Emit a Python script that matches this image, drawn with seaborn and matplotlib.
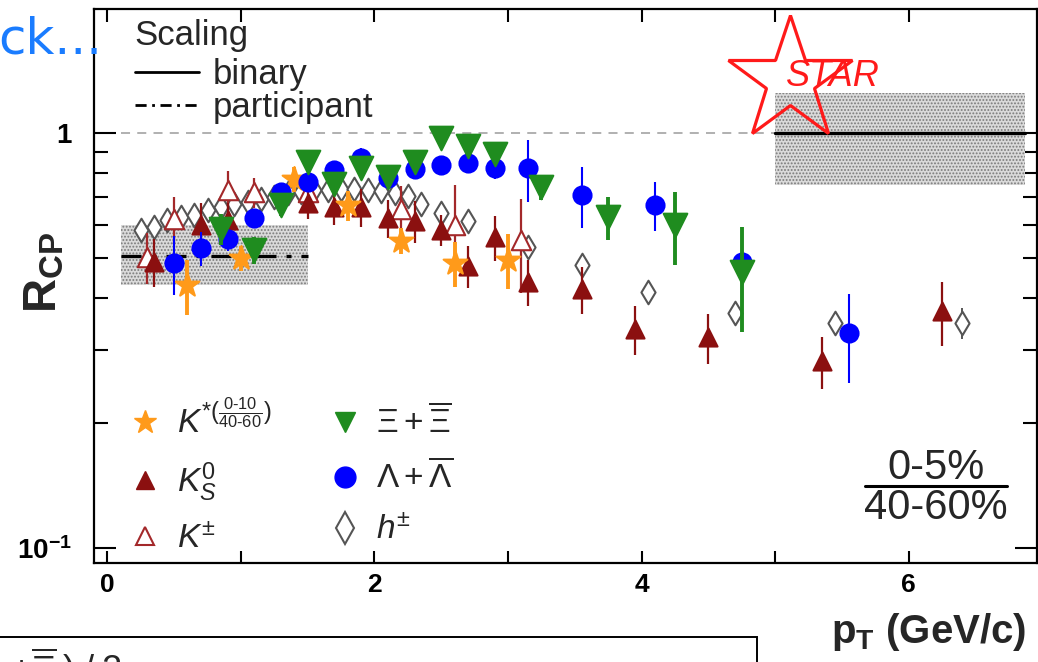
import numpy as np
import pandas as pd
import matplotlib
matplotlib.use("Agg")
import matplotlib.pyplot as plt
import seaborn as sns
from matplotlib.lines import Line2D
from matplotlib.patches import Rectangle
from matplotlib.ticker import FixedLocator, NullFormatter, LogLocator

# ---- data (pT in GeV/c, R_CP) ----
kstar_pt = [0.6, 1.0, 1.4, 1.8, 2.2, 2.6, 3.0]
kstar_r = [0.43, 0.50, 0.775, 0.67, 0.55, 0.485, 0.495]
kstar_err = [0.065, 0.035, 0.055, 0.055, 0.04, 0.06, 0.075]

k0s_pt = [0.35, 0.7, 0.9, 1.5, 1.7, 1.9, 2.1, 2.3, 2.5, 2.7, 2.9, 3.15, 3.55, 3.95, 4.5, 5.35, 6.25]
k0s_r = [0.49, 0.60, 0.617, 0.68, 0.665, 0.663, 0.624, 0.614, 0.584, 0.478, 0.561, 0.438, 0.421,
         0.337, 0.322, 0.282, 0.372]
k0s_err = [0.065, 0.08, 0.06, 0.06, 0.065, 0.07, 0.065, 0.07, 0.05, 0.055, 0.07, 0.055, 0.055,
           0.045, 0.045, 0.04, 0.065]

kch_pt = [0.3, 0.5, 0.9, 1.1, 1.5, 2.2, 2.6, 3.1]
kch_r = [0.503, 0.62, 0.73, 0.72, 0.72, 0.656, 0.60, 0.552]
kch_err = [0.07, 0.08, 0.08, 0.06, 0.06, 0.09, 0.15, 0.14]

xi_pt = [0.85, 1.1, 1.3, 1.5, 1.7, 1.9, 2.1, 2.3, 2.5, 2.7, 2.9, 3.25, 3.75, 4.25, 4.75]
xi_r = [0.587, 0.523, 0.671, 0.851, 0.754, 0.823, 0.783, 0.851, 0.973, 0.93, 0.89, 0.741, 0.628, 0.60, 0.462]
xi_err = [0.05, 0.04, 0.04, 0.04, 0.04, 0.04, 0.04, 0.04, 0.04, 0.04, 0.04, 0.05, 0.075, 0.12, 0.13]

lam_pt = [0.5, 0.7, 0.9, 1.1, 1.3, 1.5, 1.7, 1.9, 2.1, 2.3, 2.5, 2.7, 2.9, 3.15, 3.55, 4.1, 4.75, 5.55]
lam_r = [0.486, 0.528, 0.556, 0.624, 0.721, 0.762, 0.814, 0.871, 0.779, 0.819, 0.837, 0.847, 0.823,
         0.823, 0.709, 0.671, 0.489, 0.330]
lam_err = [0.08, 0.05, 0.035, 0.03, 0.03, 0.03, 0.04, 0.05, 0.04, 0.04, 0.04, 0.04, 0.05,
           0.14, 0.12, 0.09, 0.10, 0.08]

h_pt = [0.25, 0.35, 0.45, 0.55, 0.65, 0.75, 0.85, 0.95, 1.05, 1.15, 1.25, 1.35, 1.45, 1.55, 1.65,
        1.75, 1.85, 1.95, 2.05, 2.15, 2.25, 2.35, 2.5, 2.7, 3.15, 3.55, 4.05, 4.7, 5.45, 6.4]
h_r = [0.584, 0.594, 0.617, 0.628, 0.634, 0.652, 0.663, 0.675, 0.682, 0.694, 0.701, 0.717, 0.720, 0.729,
       0.729, 0.733, 0.731, 0.729, 0.725, 0.718, 0.705, 0.675, 0.64, 0.613, 0.531, 0.481, 0.414, 0.368,
       0.348, 0.348]
h_err = [0.01, 0.01, 0.01, 0.01, 0.01, 0.01, 0.01, 0.01, 0.01, 0.01, 0.01, 0.01, 0.01, 0.01, 0.01,
         0.01, 0.01, 0.01, 0.01, 0.01, 0.01, 0.01, 0.012, 0.012, 0.015, 0.015, 0.015, 0.02, 0.02, 0.03]

# scaling bands: (pT range, R_CP range, reference level)
part_pt = [0.1, 1.5]
part_band = [0.43, 0.60]
part_level = 0.505
bin_pt = [5.0, 6.87]
bin_band = [0.75, 1.25]
bin_level = 1.0

# ---- colours ----
c_kstar = "#ff9a1a"
c_k0s = "#8b1010"
c_kch = "#a3282a"
c_xi = "#1f8c1f"
c_lam = "#0000ff"
c_h = "#555555"
c_star = "#ff1a1a"

sns.set_theme(style="ticks")
plt.rcParams["font.family"] = ["Liberation Sans", "DejaVu Sans"]
plt.rcParams["mathtext.fontset"] = "custom"
plt.rcParams["mathtext.rm"] = "Liberation Sans"
plt.rcParams["mathtext.it"] = "Liberation Sans:italic"
plt.rcParams["mathtext.bf"] = "Liberation Sans:bold"
plt.rcParams["hatch.linewidth"] = 0.9

fig = plt.figure(figsize=(10.38, 6.62), dpi=100)
ax = fig.add_axes([94 / 1038, 1 - 563 / 662, (1037 - 94) / 1038, (563 - 9) / 662])
ax.set_yscale("log")

# bands
for xs, band in [(part_pt, part_band), (bin_pt, bin_band)]:
    ax.fill_between(xs, band[0], band[1], facecolor="#dadada", edgecolor="#7a7a7a",
                    hatch=".....", linewidth=0, zorder=1)
ax.plot([part_pt[0], bin_pt[0]], [bin_level, bin_level], color="#aaaaaa", lw=1.3,
        dashes=(5, 4), zorder=1.5)
ax.plot(bin_pt, [bin_level, bin_level], color="black", lw=2.4, zorder=2)
ax.plot(part_pt, [part_level, part_level], color="black", lw=2.4, dashes=(6, 3, 1.5, 3), zorder=2)

series = [
    # pt, r, err, marker, size, face, edge, err lw
    (h_pt, h_r, h_err, "d", 12, "white", c_h, 1.4),
    (kch_pt, kch_r, kch_err, "^", 14, "white", c_kch, 1.6),
    (k0s_pt, k0s_r, k0s_err, "^", 13, c_k0s, c_k0s, 1.6),
    (kstar_pt, kstar_r, kstar_err, "*", 18, c_kstar, c_kstar, 2.8),
    (lam_pt, lam_r, lam_err, "o", 13, c_lam, c_lam, 1.5),
    (xi_pt, xi_r, xi_err, "v", 17, c_xi, c_xi, 2.8),
]
for i, (pt, r, err, mk, ms, fc, ec, elw) in enumerate(series):
    df = pd.DataFrame({"pt": pt, "r": r, "err": err})
    ax.errorbar(df["pt"], df["r"], yerr=df["err"], fmt="none", ecolor=ec, elinewidth=elw,
                capsize=0, zorder=3 + i)
    sns.scatterplot(data=df, x="pt", y="r", marker=mk, s=ms ** 2, color=ec, facecolor=fc,
                    edgecolor=ec, linewidth=1.5, ax=ax, zorder=3.5 + i, legend=False)

ax.set_xlim(-0.1, 6.96)
ax.set_ylim(0.092, 1.99)
ax.set_xlabel("")
ax.set_ylabel("")

# ticks
ax.set_xticks([0, 2, 4, 6])
ax.set_xticklabels(["0", "2", "4", "6"])
ax.xaxis.set_minor_locator(FixedLocator([1, 3, 5]))
ax.set_yticks([0.1, 1])
ax.set_yticklabels([r"$\mathbf{10^{-1}}$", "1"])
ax.yaxis.set_minor_locator(LogLocator(base=10, subs=np.arange(2, 10)))
ax.yaxis.set_minor_formatter(NullFormatter())
ax.tick_params(which="both", direction="in", top=True, right=True, width=1.5, colors="black")
ax.tick_params(axis="x", which="both", length=9, pad=7, labelsize=19)
ax.tick_params(axis="y", which="major", length=16, pad=16, labelsize=20)
ax.tick_params(axis="y", which="minor", length=10)
for lab in ax.get_xticklabels() + ax.get_yticklabels():
    lab.set_fontweight("bold")
for sp in ax.spines.values():
    sp.set_linewidth(1.6)
    sp.set_color("black")

# particle legend
handles = [
    Line2D([], [], ls="none", marker="*", ms=17, color=c_kstar),
    Line2D([], [], ls="none", marker="^", ms=13, color=c_k0s),
    Line2D([], [], ls="none", marker="^", ms=13, mfc="white", mec=c_kch, mew=1.5),
    Line2D([], [], ls="none", marker="v", ms=15, color=c_xi),
    Line2D([], [], ls="none", marker="o", ms=15, color=c_lam),
    Line2D([], [], ls="none", marker="d", ms=16, mfc="white", mec=c_h, mew=1.5),
]
labels = [
    r"$K^{*(\frac{\text{0-10}}{\text{40-60}})}$",
    r"$K^{0}_{S}$",
    r"$K^{\pm}$",
    r"$\Xi+\overline{\Xi}$",
    r"$\Lambda+\overline{\Lambda}$",
    r"$h^{\pm}$",
]
leg1 = ax.legend(handles, labels, ncol=2, loc="lower left", bbox_to_anchor=(0.028, 0.0),
                 frameon=False, fontsize=24, handlelength=1.0, handletextpad=0.45,
                 columnspacing=1.7, labelspacing=0.6, borderaxespad=0.0, borderpad=0.25)
ax.add_artist(leg1)

# scaling legend
ax.text(0.043, (563 - 35) / 554, "Scaling", transform=ax.transAxes, ha="left", va="center",
        fontsize=25)
sc_handles = [Line2D([], [], color="black", lw=2.0),
              Line2D([], [], color="black", lw=2.0, dashes=(4, 2, 1, 2))]
ax.legend(sc_handles, ["binary", "participant"], loc="upper left",
          bbox_to_anchor=(0.043, (563 - 58) / 554), frameon=False, fontsize=25,
          handlelength=1.85, handletextpad=0.4, labelspacing=0.0, borderaxespad=0.0,
          borderpad=0.0)

# centrality ratio
ax.text(0.893, 0.171, "0-5%", transform=ax.transAxes, ha="center", va="center", fontsize=30)
ax.plot([0.818, 0.968], [0.139, 0.139], transform=ax.transAxes, color="black", lw=2.2)
ax.text(0.893, 0.099, "40-60%", transform=ax.transAxes, ha="center", va="center", fontsize=30)

# STAR logo
ax.plot([0.738], [0.872], transform=ax.transAxes, marker="*", ms=94, mfc="none", mec=c_star,
        mew=2.3, ls="none", clip_on=False, zorder=10)
ax.text(0.784, 0.879, "STAR", transform=ax.transAxes, ha="center", va="center", fontsize=26,
        style="italic", color=c_star, zorder=11)

# axis labels
fig.text(45 / 1038, 1 - 272 / 662, r"$\mathbf{R}_{\mathbf{CP}}$", rotation=90, ha="center",
         va="center", fontsize=34)
fig.text(1026 / 1038, 1 - 632 / 662, r"$\mathbf{p_T}$ (GeV/c)", ha="right", va="center",
         fontsize=29, fontweight="bold")

# slide leftovers around the figure
fig.text(-0.002, 1 - 53 / 662, "ck...", color="#1a7cff", fontsize=36, ha="left",
         va="baseline", family="DejaVu Sans")
fig.patches.append(Rectangle((-0.01, -0.05), 757 / 1038 + 0.01, 0.05 + 25 / 662,
                             transform=fig.transFigure, fill=False, edgecolor="black", lw=1.4))
fig.text(0.01, 1 - 645 / 662, r"$+\overline{\Xi}\;)\;/\;2$", ha="left", va="top", fontsize=26)

fig.savefig("out.png", dpi=100)
